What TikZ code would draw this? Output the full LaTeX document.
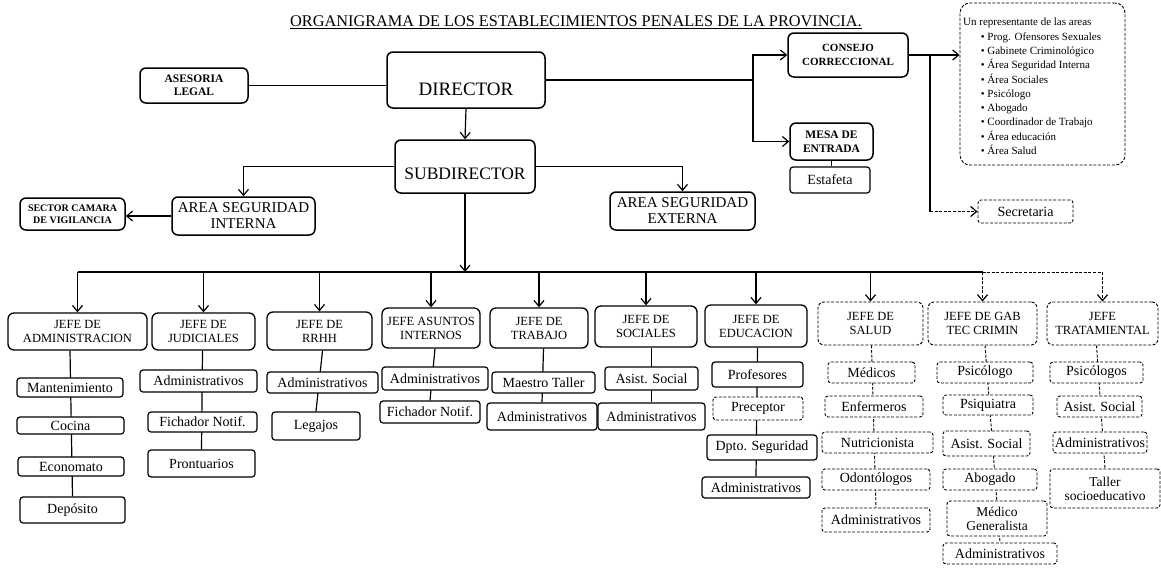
\documentclass[tikz,border=0pt]{standalone}
\usepackage{fontspec}
\setmainfont{Liberation Serif}
\usetikzlibrary{arrows.meta,backgrounds}
\newcommand\bxn[7]{%
  \pgfmathsetmacro\bxcx{(#3+#5)/2}%
  \pgfmathsetmacro\bxcy{(#4+#6)/2}%
  \pgfmathsetmacro\bxw{#5-#3}%
  \pgfmathsetmacro\bxh{#6-#4}%
  \node[#1, minimum width=\bxw pt, minimum height=\bxh pt] (#2) at (\bxcx,\bxcy) {#7};}
\begin{document}
\begin{tikzpicture}[x=1pt,y=-1pt,
  mainbox/.style={draw, line width=1.5pt, rounded corners=6pt, fill=white, inner sep=0pt, align=center},
  jefe/.style={mainbox, line width=1.3pt, font=\fontsize{12.5}{14}\selectfont},
  itembox/.style={draw, line width=1.2pt, rounded corners=3pt, fill=white, inner sep=0pt, align=center, font=\fontsize{14}{14}\selectfont},
  faint/.style={dash pattern=on 3pt off 1.6pt, line width=0.9pt},
  link/.style={line width=1.2pt},
  arr/.style={line width=1.2pt, -{Straight Barb[length=6pt,width=10pt,line width=1.2pt]}},
]
\useasboundingbox (0,0) rectangle (1161,568);

% title
\node[font=\fontsize{16.3}{18}\selectfont, inner sep=0pt] (title) at (576,22)
  {\underline{ORGANIGRAMA DE LOS ESTABLECIMIENTOS PENALES DE LA PROVINCIA.}};

% top level
\bxn{mainbox,font=\bfseries\fontsize{11.5}{13}\selectfont}{ases}{140}{68}{248}{103}{ASESORIA\\LEGAL}
\bxn{mainbox,font=\fontsize{19}{20}\selectfont}{dir}{387}{52}{545}{108}{\raisebox{-9pt}[\height][0pt]{DIRECTOR}}
\bxn{mainbox,font=\fontsize{17.5}{19}\selectfont}{sub}{395}{140}{535}{193}{\raisebox{-7pt}[\height][0pt]{SUBDIRECTOR}}
\bxn{mainbox,font=\fontsize{15}{16}\selectfont}{asi}{172}{197}{315}{235}{AREA SEGURIDAD\\INTERNA}
\bxn{mainbox,font=\bfseries\fontsize{10}{12}\selectfont}{sec}{20}{198}{125}{230}{SECTOR CAMARA\\DE VIGILANCIA}
\bxn{mainbox,font=\fontsize{15}{16}\selectfont}{ase}{610}{192}{755}{230}{AREA SEGURIDAD\\EXTERNA}
\bxn{mainbox,font=\bfseries\fontsize{11}{14}\selectfont}{cons}{788}{33}{908}{77}{CONSEJO\\CORRECCIONAL}
\bxn{mainbox,font=\bfseries\fontsize{11.5}{14}\selectfont}{mesa}{790}{123}{873}{160}{MESA DE\\ENTRADA}
\bxn{itembox}{estaf}{790}{167}{870}{193}{Estafeta}
\bxn{itembox,faint}{secre}{978}{200}{1073}{223}{Secretaria}
\bxn{mainbox,faint,rounded corners=10pt}{info}{960}{3}{1125}{165}{}
\node[anchor=north west, align=left, inner sep=0pt, font=\fontsize{11}{14.3}\selectfont] (infotxt) at (963,18)
  {Un representante de las areas\\
   \hspace{1.6em}• Prog. Ofensores Sexuales\\
   \hspace{1.6em}• Gabinete Criminológico\\
   \hspace{1.6em}• Área Seguridad Interna\\
   \hspace{1.6em}• Área Sociales\\
   \hspace{1.6em}• Psicólogo\\
   \hspace{1.6em}• Abogado\\
   \hspace{1.6em}• Coordinador de Trabajo\\
   \hspace{1.6em}• Área educación\\
   \hspace{1.6em}• Área Salud};

% jefes
\bxn{jefe}{jadm}{8}{313}{147}{350}{JEFE DE\\ADMINISTRACION}
\bxn{jefe}{jjud}{152}{313}{255}{350}{JEFE DE\\JUDICIALES}
\bxn{jefe}{jrrhh}{267}{312}{372}{350}{JEFE DE\\RRHH}
\bxn{jefe}{jasu}{382}{308}{480}{348}{JEFE ASUNTOS\\INTERNOS}
\bxn{jefe}{jtrab}{490}{308}{588}{348}{JEFE DE\\TRABAJO}
\bxn{jefe}{jsoc}{595}{306}{697}{347}{JEFE DE\\SOCIALES}
\bxn{jefe}{jedu}{705}{305}{807}{347}{JEFE DE\\EDUCACION}
\bxn{jefe,faint}{jsal}{818}{302}{923}{345}{JEFE DE\\SALUD}
\bxn{jefe,faint}{jgab}{928}{302}{1037}{345}{JEFE DE GAB\\TEC CRIMIN}
\bxn{jefe,faint}{jtra}{1047}{302}{1158}{345}{JEFE\\TRATAMIENTAL}

% items
\bxn{itembox}{a1}{17}{378}{123}{397}{Mantenimiento}
\bxn{itembox}{a2}{17}{417}{124}{434}{Cocina}
\bxn{itembox}{a3}{18}{457}{124}{476}{Economato}
\bxn{itembox}{a4}{20}{497}{125}{523}{Depósito}

\bxn{itembox}{b1}{140}{370}{257}{392}{Administrativos}
\bxn{itembox}{b2}{148}{412}{257}{432}{Fichador Notif.}
\bxn{itembox}{b3}{148}{450}{255}{477}{Prontuarios}

\bxn{itembox}{c1}{267}{372}{378}{393}{Administrativos}
\bxn{itembox}{c2}{272}{412}{360}{440}{Legajos}

\bxn{itembox}{d1}{382}{367}{488}{390}{Administrativos}
\bxn{itembox}{d2}{380}{401}{480}{423}{Fichador Notif.}

\bxn{itembox}{e1}{492}{372}{595}{393}{Maestro Taller}
\bxn{itembox}{e2}{487}{403}{597}{430}{Administrativos}

\bxn{itembox}{f1}{605}{367}{698}{390}{Asist. Social}
\bxn{itembox}{f2}{598}{403}{705}{430}{Administrativos}

\bxn{itembox}{g1}{712}{362}{803}{387}{Profesores}
\bxn{itembox,faint}{g2}{713}{397}{803}{420}{Preceptor}
\bxn{itembox}{g3}{707}{435}{817}{460}{Dpto. Seguridad}
\bxn{itembox}{g4}{702}{477}{810}{498}{Administrativos}

\bxn{itembox,faint}{h1}{828}{362}{915}{383}{Médicos}
\bxn{itembox,faint}{h2}{825}{396}{923}{417}{Enfermeros}
\bxn{itembox,faint}{h3}{822}{432}{933}{453}{Nutricionista}
\bxn{itembox,faint}{h4}{822}{469}{930}{490}{Odontólogos}
\bxn{itembox,faint}{h5}{822}{508}{930}{532}{Administrativos}

\bxn{itembox,faint}{k1}{937}{362}{1033}{383}{Psicólogo}
\bxn{itembox,faint}{k2}{943}{395}{1033}{415}{Psiquiatra}
\bxn{itembox,faint}{k3}{943}{431}{1030}{456}{Asist. Social}
\bxn{itembox,faint}{k4}{943}{469}{1037}{490}{Abogado}
\bxn{itembox,faint,font=\fontsize{13.5}{14}\selectfont}{k5}{947}{501}{1047}{536}{Médico\\Generalista}
\bxn{itembox,faint}{k6}{943}{543}{1057}{564}{Administrativos}

\bxn{itembox,faint}{t1}{1050}{362}{1143}{383}{Psicólogos}
\bxn{itembox,faint}{t2}{1057}{396}{1142}{417}{Asist. Social}
\bxn{itembox,faint}{t3}{1053}{432}{1147}{453}{Administrativos}
\bxn{itembox,faint,font=\fontsize{13.5}{14}\selectfont}{t4}{1050}{469}{1160}{508}{Taller\\socioeducativo}

% connectors top
\draw[link] (ases.east) -- (dir.west |- ases.east);
\draw[arr] (dir.south) -- (sub.north);
\draw[arr] (sub.west) -| (asi.north);
\draw[arr] (asi.west) -- (sec.east |- asi.west);
\draw[arr] (sub.east) -| (ase.north);
\coordinate (j1) at (753,80);
\draw[link] (dir.east |- j1) -- (j1);
\draw[arr] (j1) |- (cons.west);
\draw[arr] (j1) |- (mesa.west);
\draw[link] (mesa.south) -- (mesa.south |- estaf.north);
\draw[arr] (cons.east) -- (info.west |- cons.east);
\coordinate (j2) at (930,55);
\coordinate (j3) at (930,211.5);
\draw[link] (j2) -- (j3);
\draw[arr,faint] (j3) -- (secre.west);

% bus
\coordinate (bus) at (0,272);
\draw[arr] (sub.south) -- (sub.south |- bus);
\draw[link] (jadm.north |- bus) -- (jgab.north |- bus);
\draw[link,faint] (jgab.north |- bus) -- (jtra.north |- bus);
\foreach \j in {jadm,jjud,jrrhh,jasu,jtrab,jsoc,jedu,jsal}
  \draw[arr] (\j.north |- bus) -- (\j.north);
\foreach \j in {jgab,jtra}
  \draw[arr,faint] (\j.north |- bus) -- (\j.north);

% column chains
\begin{scope}[on background layer]
\draw[link] (a1.north |- jadm.south) -- (a4.north);
\draw[link] (b2.north |- jjud.south) -- (b3.north);
\draw[link] (c1.north |- jrrhh.south) -- (c2.north);
\draw[link] (d1.north |- jasu.south) -- (d2.north);
\draw[link] (e1.north |- jtrab.south) -- (e2.north);
\draw[link] (f1.north |- jsoc.south) -- (f2.north);
\draw[link] (g1.north |- jedu.south) -- (g4.north);
\draw[link,faint] (h1.north |- jsal.south) -- (h5.north);
\draw[link,faint] (k1.north |- jgab.south) -- (k6.north);
\draw[link,faint] (t1.north |- jtra.south) -- (t4.north);
\end{scope}
\end{tikzpicture}
\end{document}
